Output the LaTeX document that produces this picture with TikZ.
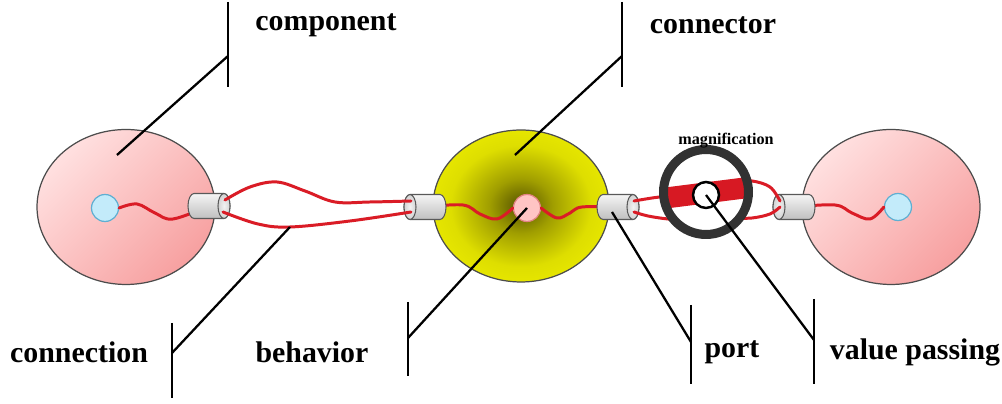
\documentclass[tikz,border=0pt]{standalone}
\usepackage{fontspec}
\setmainfont{Liberation Serif}
\usetikzlibrary{shapes.geometric,calc}
\definecolor{wirec}{RGB}{218,28,38}
\definecolor{pinkL}{RGB}{255,224,224}
\definecolor{pinkR}{RGB}{247,160,160}
\definecolor{yelO}{RGB}{234,234,0}
\definecolor{yelN}{RGB}{222,222,0}
\definecolor{yelM}{RGB}{160,158,0}
\definecolor{yelI}{RGB}{85,82,0}
\definecolor{dotB}{RGB}{195,235,250}
\definecolor{dotBe}{RGB}{95,175,210}
\definecolor{dotP}{RGB}{255,196,196}
\definecolor{dotPe}{RGB}{225,130,130}
\definecolor{ringc}{RGB}{50,50,50}
\definecolor{barc}{RGB}{215,25,35}
\pgfdeclareradialshading{yelshade}{\pgfpoint{0bp}{0bp}}{color(0bp)=(yelI); color(9bp)=(yelM); color(20bp)=(yelN); color(28bp)=(yelO); color(50bp)=(yelO)}
\tikzset{
  compell/.style={ellipse, draw=black!70, line width=0.7pt, minimum width=3.56cm, minimum height=3.10cm, inner sep=0pt,
    top color=pinkL, bottom color=pinkR, shading angle=45},
  connell/.style={ellipse, draw=black!70, line width=0.7pt, minimum width=3.52cm, minimum height=3.04cm, inner sep=0pt,
    shading=yelshade},
  portbox/.style={rectangle, minimum width=0.84cm, minimum height=0.50cm, inner sep=0pt},
  portbody/.style={draw=black!65, line width=0.6pt, top color=gray!8, bottom color=gray!50},
  portface/.style={draw=black!65, line width=0.6pt, inner color=gray!10, outer color=gray!35},
  dotn/.style={circle, inner sep=0pt, minimum size=0.54cm, line width=0.7pt},
  wire/.style={draw=wirec, line width=1.7pt, line cap=round},
  lead/.style={draw=black, line width=1.3pt},
  lab/.style={font=\fontsize{17}{20}\selectfont\bfseries, inner sep=0pt},
}
% draw a port cylinder over node #1, face pointing right (#2=1) or left (#2=-1)
\newcommand\drawport[2]{%
  \begin{scope}[shift={(#1.center)}, x=0.02cm, y=0.02cm, xscale=#2]
    \path[portbody] (-15,12.5) -- (15,12.5) arc[start angle=90, end angle=-90, x radius=6, y radius=12.5]
      -- (-15,-12.5) arc[start angle=270, end angle=90, x radius=6, y radius=12.5] -- cycle;
    \path[portface] (15,0) ellipse [x radius=6, y radius=12.5];
  \end{scope}}
\begin{document}
\begin{tikzpicture}[x=0.02cm, y=-0.02cm]
\useasboundingbox[fill=white] (0,0) rectangle (1002,404);

% big ellipses
\node[compell] (cL) at (126,207) {};
\node[compell] (cR) at (891,207) {};
\node[connell] (cM) at (521,206) {};

% dots
\node[dotn, fill=dotB, draw=dotBe] (dL) at (105,208) {};
\node[dotn, fill=dotB, draw=dotBe] (dR) at (898,207) {};
\node[dotn, fill=dotP, draw=dotPe] (dM) at (527,208) {};

% ports (named boxes)
\node[portbox] (p1) at (209,206) {};
\node[portbox] (p2) at (425,207) {};
\node[portbox] (p3) at (618,207) {};
\node[portbox] (p4) at (794,207) {};

% wavy behaviour wires (behind ports)
\draw[wire] plot[smooth, tension=0.6] coordinates {(dL.east) (137,204) (155,213) (173,219) (p1.center)};
\draw[wire] plot[smooth, tension=0.6] coordinates {(p2.center) (463,205) (480,214) (497,219) (dM.west)};
\draw[wire] plot[smooth, tension=0.6] coordinates {(dM.east) (557,218) (570,213) (582,207) (p3.center)};
\draw[wire] plot[smooth, tension=0.6] coordinates {(p4.center) (835,205) (852,213) (870,219) (dR.west)};

\drawport{p1}{1}
\drawport{p2}{-1}
\drawport{p3}{1}
\drawport{p4}{-1}

% connection wires
\draw[wire] plot[smooth, tension=0.6] coordinates {($(p1.center)+(16,-6)$) (250,187) (277,182) (305,191) (335,202) (370,202) ($(p2.center)+(-14,-6)$)};
\draw[wire] plot[smooth, tension=0.6] coordinates {($(p1.center)+(14,6)$) (258,224) (290,227) (350,221) ($(p2.center)+(-14,5)$)};

% wires around magnification
\draw[wire] plot[smooth, tension=0.6] coordinates {($(p3.center)+(16,-6)$) (652,198) (668,196)};
\draw[wire] plot[smooth, tension=0.6] coordinates {($(p3.center)+(16,5)$) (648,216) (668,219) (680,219)};
\draw[wire] plot[smooth, tension=0.6] coordinates {(735,182) (752,181) (770,187) ($(p4.center)+(-14,-6)$)};
\draw[wire] plot[smooth, tension=0.6] coordinates {(735,218) (752,218) (770,214) ($(p4.center)+(-14,0)$)};

% magnification
\begin{scope}
  \clip (706,192) circle (40);
  \fill[white] (706,192) circle (40);
  \draw[barc, line width=0.42cm] (650,200) -- (760,186);
\end{scope}
\node[circle, draw=ringc, line width=0.18cm, minimum size=1.70cm, inner sep=0pt] (mag) at (706,192) {};
\node[circle, draw=black, fill=white, line width=1.4pt, minimum size=0.52cm, inner sep=0pt] (vp) at (706,195) {};
\node[font=\fontsize{9.2}{11}\selectfont\bfseries, inner sep=0pt] (magl) at (726,141) {magnification};

% labels
\node[lab] (lcomp) at (326,25) {component};
\node[lab] (lconn) at (713,25) {connector};
\node[lab] (lcon) at (79,352) {connection};
\node[lab] (lbeh) at (312,352) {behavior};
\node[lab] (lport) at (732,352) {port};
\node[lab] (lval) at (915,352) {value passing};

% leader lines
\coordinate (b1) at (228,56);
\draw[lead] (228,2) -- (228,87);
\draw[lead] (b1) -- (117,155);
\coordinate (b2) at (622,56);
\draw[lead] (622,2) -- (622,87);
\draw[lead] (b2) -- (515,155);
\coordinate (b3) at (172,353);
\draw[lead] (172,323) -- (172,398);
\draw[lead] (b3) -- (290,227);
\coordinate (b4) at (408,338);
\draw[lead] (408,302) -- (408,376);
\draw[lead] (b4) -- (dM.center);
\coordinate (b5) at (691,342);
\draw[lead] (691,305) -- (691,384);
\draw[lead] (b5) -- (612,212);
\coordinate (b6) at (814,340);
\draw[lead] (814,299) -- (814,384);
\draw[lead] (b6) -- (vp.center);
\end{tikzpicture}
\end{document}
